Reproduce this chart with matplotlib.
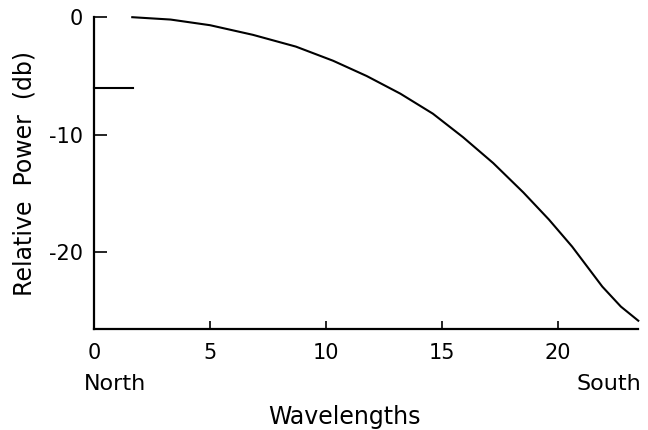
import matplotlib

matplotlib.use("Agg")
import matplotlib.pyplot as plt

# relative power along the path
wavelengths = [1.65, 3.3, 5.0, 6.85, 8.7, 10.3, 11.75, 13.2, 14.6, 15.9,
               17.2, 18.5, 19.6, 20.6, 21.25, 21.9, 22.7, 23.45]
power_db = [0.0, -0.2, -0.68, -1.5, -2.5, -3.7, -5.0, -6.5, -8.2, -10.2,
            -12.4, -14.9, -17.2, -19.5, -21.2, -22.9, -24.6, -25.8]

# short reference level at the north end
ref_x = [0.0, 1.7]
ref_db = [-6.0, -6.0]

x_ticks = [0, 5, 10, 15, 20]
y_ticks = [0, -10, -20]


def main() -> None:
    plt.rcParams["font.family"] = "DejaVu Sans"
    plt.rcParams["axes.unicode_minus"] = False
    fig = plt.figure(figsize=(6.48, 4.30), dpi=100)
    ax = fig.add_axes([0.145, 0.235, 0.84, 0.725])

    ax.plot(wavelengths, power_db, color="black", linewidth=1.5,
            clip_on=False, solid_joinstyle="round")
    ax.plot(ref_x, ref_db, color="black", linewidth=1.5, clip_on=False)

    ax.set_xlim(0, 23.45)
    ax.set_ylim(-26.5, 0)
    ax.spines["top"].set_visible(False)
    ax.spines["right"].set_visible(False)
    ax.spines["left"].set_linewidth(1.6)
    ax.spines["bottom"].set_linewidth(1.6)

    ax.set_xticks(x_ticks)
    ax.set_yticks(y_ticks)
    ax.tick_params(axis="x", direction="in", length=6, width=1.2,
                   labelsize=15, pad=10)
    ax.tick_params(axis="y", direction="in", length=9, width=1.2,
                   labelsize=15, pad=8)

    ax.set_ylabel("Relative  Power  (db)", fontsize=17)
    ax.set_xlabel("Wavelengths", fontsize=17)

    ax.text(0.9, -0.145, "North", transform=ax.get_xaxis_transform(),
            ha="center", va="top", fontsize=16)
    ax.text(22.2, -0.145, "South", transform=ax.get_xaxis_transform(),
            ha="center", va="top", fontsize=16)

    ax.xaxis.set_label_coords(0.46, -0.245)
    ax.yaxis.set_label_coords(-0.105, 0.5)

    fig.savefig("out.png", dpi=100)
    plt.close(fig)


if __name__ == "__main__":
    main()
